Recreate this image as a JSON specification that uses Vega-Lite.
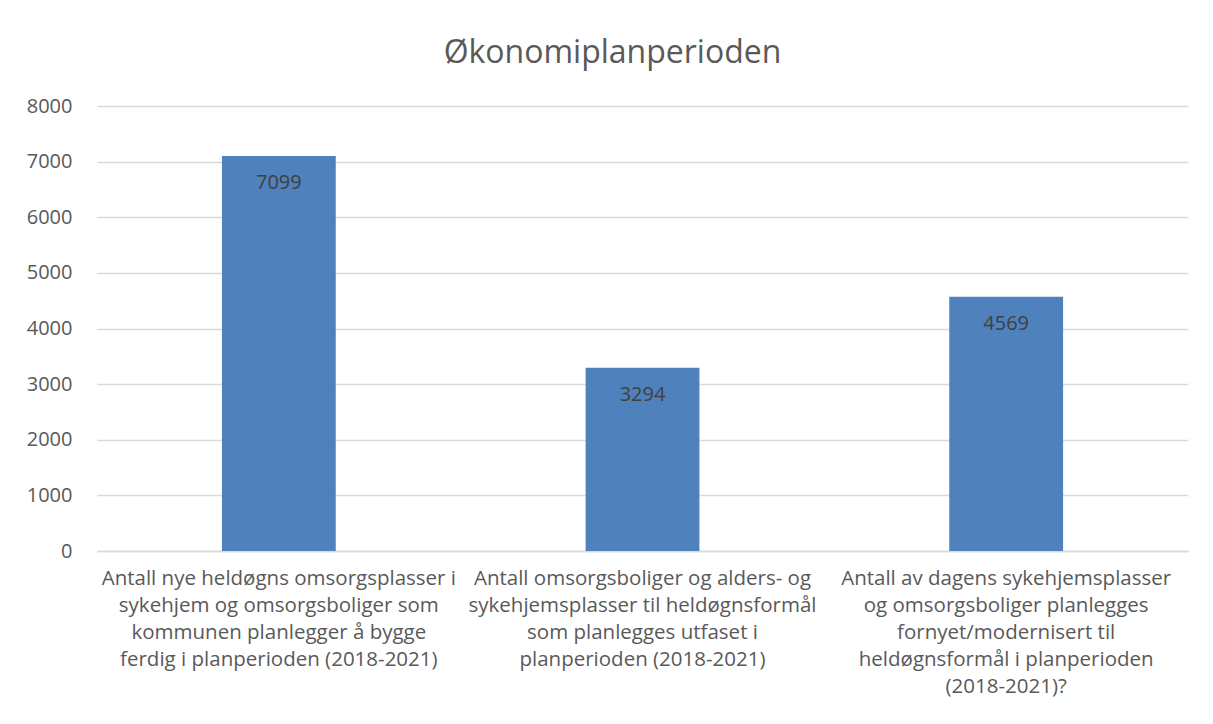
{
  "$schema": "https://vega.github.io/schema/vega-lite/v6.json",
  "autosize": "none",
  "width": 1091,
  "height": 445,
  "padding": {"left": 97, "top": 106, "right": 25, "bottom": 173},
  "background": "white",
  "config": {
    "view": {"stroke": null},
    "font": "Open Sans"
  },
  "title": {
    "text": "Økonomiplanperioden",
    "fontSize": 32,
    "fontWeight": "normal",
    "color": "#595959",
    "font": "Open Sans",
    "anchor": "middle",
    "dx": -30,
    "dy": 39,
    "offset": 33,
    "baseline": "bottom"
  },
  "data": {
    "values": [
      {"kategori": "Antall nye heldøgns omsorgsplasser i|sykehjem og omsorgsboliger som|kommunen  planlegger å bygge|ferdig i planperioden (2018-2021)", "verdi": 7099},
      {"kategori": "Antall omsorgsboliger og alders- og|sykehjemsplasser til heldøgnsformål|som planlegges utfaset i|planperioden (2018-2021)", "verdi": 3294},
      {"kategori": "Antall av dagens sykehjemsplasser|og omsorgsboliger planlegges|fornyet/modernisert til|heldøgnsformål i planperioden|(2018-2021)?", "verdi": 4569}
    ]
  },
  "encoding": {
    "x": {
      "field": "kategori",
      "type": "nominal",
      "sort": null,
      "scale": {"paddingInner": 0.687, "paddingOuter": 0.3435},
      "axis": {
        "title": null,
        "labelAngle": 0,
        "labelExpr": "split(datum.value, '|')",
        "labelFontSize": 20.5,
        "labelColor": "#595959",
        "labelLimit": 0,
        "labelOverlap": false,
        "labelBaseline": "top",
        "labelPadding": 17,
        "labelLineHeight": 27,
        "ticks": false,
        "domainColor": "#d9d9d9",
        "domainWidth": 1.5
      }
    },
    "y": {
      "field": "verdi",
      "type": "quantitative",
      "scale": {"domain": [0, 8000]},
      "axis": {
        "title": null,
        "values": [0, 1000, 2000, 3000, 4000, 5000, 6000, 7000, 8000],
        "format": "d",
        "labelFontSize": 20,
        "labelColor": "#595959",
        "labelPadding": 25,
        "ticks": false,
        "domain": false,
        "gridColor": "#d9d9d9",
        "gridWidth": 1.5
      }
    }
  },
  "layer": [
    {"mark": {"type": "bar", "color": "#4F81BD"}},
    {
      "mark": {"type": "text", "baseline": "middle", "dy": 27, "fontSize": 20, "color": "#404040"},
      "encoding": {"text": {"field": "verdi", "type": "quantitative"}}
    }
  ]
}
